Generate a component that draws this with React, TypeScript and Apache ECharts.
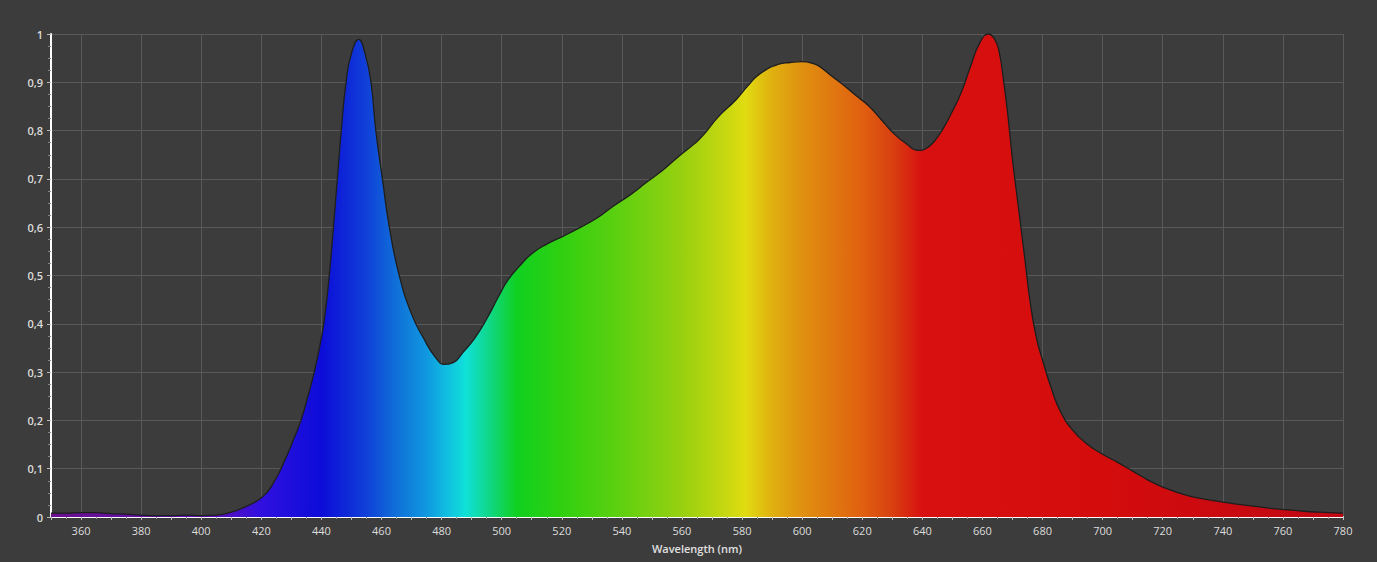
import React, { useEffect, useRef } from "react";
import * as echarts from "echarts";

const wavelengths = [
  350, 355, 360, 365, 370, 375, 380, 385, 390, 395, 400, 405, 410, 415, 420, 424, 428, 431, 433.2, 435.5,
  437.6, 439.5, 441, 442.6, 444, 445.3, 446.6, 448.2, 450, 452.4, 454.5, 456.5, 458.1, 460.3, 462.6, 465.9,
  470, 474, 478, 481, 484, 487, 491, 495, 499, 502, 506, 510, 515, 520, 526, 532, 537, 543, 548, 554,
  559, 564, 567, 572, 578, 582, 586, 592, 596, 600, 604, 606, 610, 614, 618, 622, 626, 630, 634, 639,
  641, 644, 647, 650, 653, 656, 659, 662, 664, 665.5, 667, 668.5, 670, 672, 674, 676, 678, 680, 683, 686,
  690, 695, 700, 705, 710, 715, 720, 728, 735, 740, 748, 756, 765, 772, 780,
];
const intensity = [
  0.008, 0.008, 0.009, 0.009, 0.007, 0.006, 0.004, 0.003, 0.003, 0.004, 0.003, 0.004, 0.01, 0.022, 0.04, 0.07, 0.12, 0.165, 0.2, 0.25,
  0.3, 0.355, 0.41, 0.5, 0.6, 0.7, 0.8, 0.9, 0.96, 0.989, 0.96, 0.9, 0.8, 0.7, 0.6, 0.5,
  0.42, 0.37, 0.33, 0.316, 0.32, 0.34, 0.37, 0.41, 0.457, 0.49, 0.52, 0.545, 0.565, 0.58, 0.599, 0.62, 0.643, 0.668, 0.692, 0.72,
  0.747, 0.772, 0.79, 0.828, 0.864, 0.893, 0.918, 0.937, 0.941, 0.943, 0.938, 0.932, 0.912, 0.893, 0.872, 0.852, 0.825, 0.797, 0.776, 0.759,
  0.762, 0.778, 0.805, 0.84, 0.88, 0.932, 0.98, 1.0, 0.99, 0.965, 0.905, 0.83, 0.74, 0.64, 0.54, 0.44, 0.37, 0.325, 0.265, 0.218,
  0.18, 0.15, 0.13, 0.113, 0.095, 0.077, 0.062, 0.045, 0.036, 0.031, 0.024, 0.018, 0.013, 0.01, 0.008,
];

// spectral colour of the fill at given wavelengths
const colorWavelengths = [350, 405, 420, 440, 455, 465, 475, 482, 488, 495, 505, 520, 540, 560, 575, 581, 590, 600, 610, 620, 630, 640, 700, 780];
const colorValues = [
  "#6b108f", "#5a10b8", "#3010e0", "#0c0cd8", "#1040d8", "#1070d8", "#1098e0", "#10c0e0", "#10e0d8", "#10d890",
  "#10d020", "#30d010", "#60d010", "#98d010", "#c8d810", "#e0dc10", "#e0b010", "#e09010", "#e07810", "#e06010",
  "#d84010", "#d81010", "#d40c0c", "#c00814",
];

const xMin = 350;
const xMax = 780;
const yTicks = [0, 0.1, 0.2, 0.3, 0.4, 0.5, 0.6, 0.7, 0.8, 0.9, 1];

export default function App() {
  const ref = useRef<HTMLDivElement>(null);
  useEffect(() => {
    document.body.style.margin = "0";
    document.body.style.background = "#3c3c3c";
    const chart = echarts.init(ref.current!, null, { renderer: "svg" });
    const stops = colorWavelengths.map((w, i) => ({ offset: (w - xMin) / (xMax - xMin), color: colorValues[i] }));
    const font = "'Open Sans', 'Noto Sans', sans-serif";
    chart.setOption({
      animation: false,
      backgroundColor: "#3c3c3c",
      grid: { left: 51, right: 34, top: 34, bottom: 45, containLabel: false },
      xAxis: {
        type: "value",
        min: xMin,
        max: xMax,
        interval: 10,
        name: "Wavelength (nm)",
        nameLocation: "middle",
        nameGap: 26,
        nameTextStyle: { color: "#e0e0e0", fontSize: 11, fontFamily: font, fontWeight: 600 },
        axisLine: { show: true, onZero: false, lineStyle: { color: "#ffffff", width: 2 } },
        axisTick: { show: true, length: 3, lineStyle: { color: "#bbbbbb" } },
        minorTick: { show: true, splitNumber: 2, length: 2, lineStyle: { color: "#999999" } },
        axisLabel: {
          color: "#dddddd",
          fontSize: 11,
          fontFamily: font,
          margin: 8,
          formatter: (v: number) => (v % 20 === 0 ? String(v) : ""),
        },
        splitLine: { show: true, lineStyle: { color: ["rgba(0,0,0,0)", "#595959"], width: 1 } },
      },
      yAxis: {
        type: "value",
        min: 0,
        max: 1,
        interval: 0.1,
        axisLine: { show: true, lineStyle: { color: "#ffffff", width: 2 } },
        axisTick: { show: true, length: 4, lineStyle: { color: "#bbbbbb" } },
        minorTick: { show: true, splitNumber: 4, length: 3, lineStyle: { color: "#888888" } },
        axisLabel: {
          color: "#dddddd",
          fontSize: 11,
          fontFamily: font,
          fontWeight: 600,
          margin: 8,
          formatter: (v: number) => {
            const t = yTicks.find((k) => Math.abs(k - v) < 1e-6);
            return t === undefined ? "" : String(Math.round(t * 10) / 10).replace(".", ",");
          },
        },
        splitLine: { show: true, lineStyle: { color: "#595959", width: 1 } },
      },
      series: [
        {
          type: "line",
          data: wavelengths.map((w, i) => [w, intensity[i]]),
          smooth: 0.5,
          showSymbol: false,
          symbol: "none",
          lineStyle: { color: "#1e1e1e", width: 1.3 },
          areaStyle: { color: new echarts.graphic.LinearGradient(0, 0, 1, 0, stops), opacity: 1 },
          z: 3,
        },
      ],
    });
    return () => chart.dispose();
  }, []);
  return <div ref={ref} style={{ width: 1377, height: 562 }} />;
}
